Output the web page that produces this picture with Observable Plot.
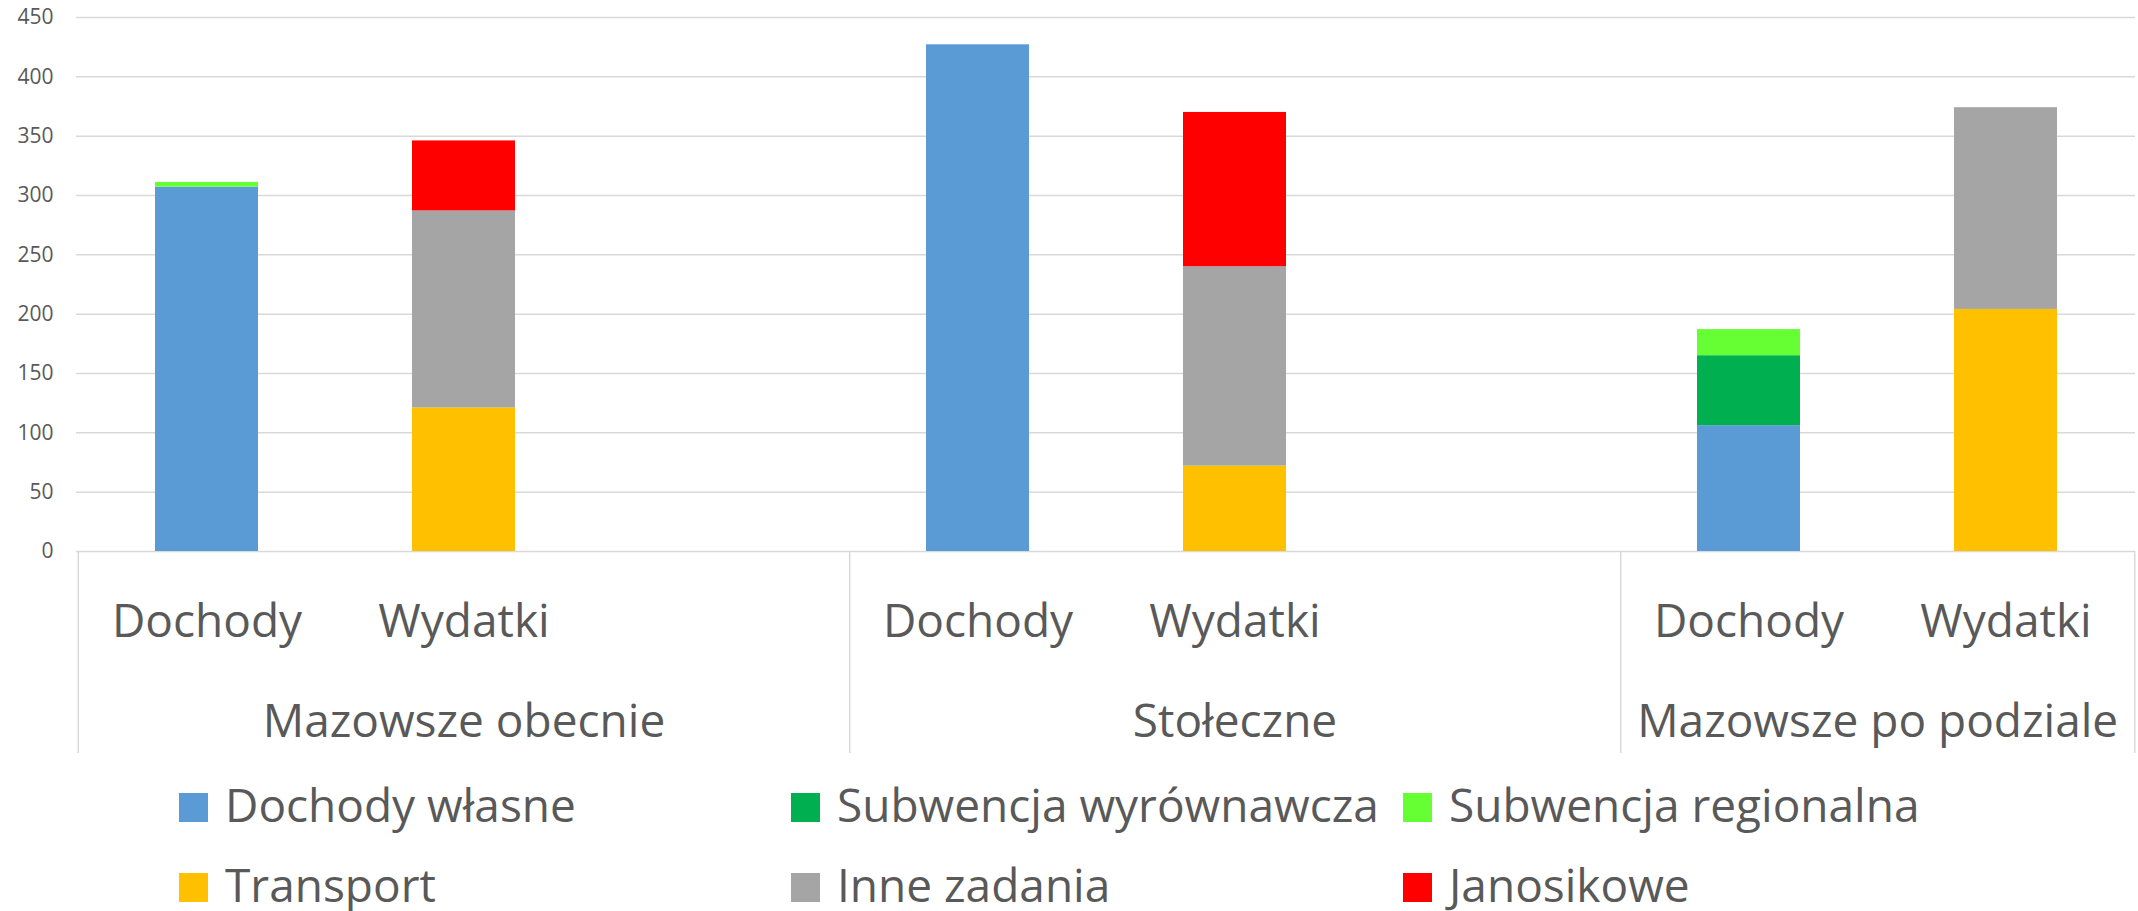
<!DOCTYPE html>
<html><head><meta charset="utf-8">
<script src="https://cdn.jsdelivr.net/npm/d3@7"></script>
<script src="https://cdn.jsdelivr.net/npm/@observablehq/plot@0.6"></script>
<style>
body{margin:0;background:#fff;font-family:"Open Sans",sans-serif;overflow:hidden;}
#chart svg{display:block;}
#legend{padding-left:179px;padding-top:4px;color:#595959;font-size:46px;line-height:46px;}
.row{display:flex;height:80px;align-items:center;}
.item{width:612px;display:flex;align-items:center;white-space:nowrap;}
.sw{width:29px;height:29px;margin-right:17px;flex:none;position:relative;top:3px;}
</style></head><body><div id="chart"></div><div id="legend"></div>
<script>
const groups = ["Mazowsze obecnie", "Stołeczne", "Mazowsze po podziale"];
const categories = ["Dochody", "Wydatki"];
const seriesNames = ["Dochody własne", "Subwencja wyrównawcza", "Subwencja regionalna", "Transport", "Inne zadania", "Janosikowe"];
const seriesColors = ["#5B9BD5", "#00B050", "#66FF33", "#FFC000", "#A5A5A5", "#FF0000"];
// values per group (Mazowsze obecnie, Stołeczne, Mazowsze po podziale)
const dochodyWlasne = [307, 427, 106];
const subwencjaWyrownawcza = [0, 0, 59];
const subwencjaRegionalna = [4, 0, 22];
const transport = [121, 72, 204];
const inneZadania = [166, 168, 170];
const janosikowe = [59, 130, 0];
const yTicks = [0, 50, 100, 150, 200, 250, 300, 350, 400, 450];

const dochodySeries = [["Dochody własne", dochodyWlasne], ["Subwencja wyrównawcza", subwencjaWyrownawcza], ["Subwencja regionalna", subwencjaRegionalna]];
const wydatkiSeries = [["Transport", transport], ["Inne zadania", inneZadania], ["Janosikowe", janosikowe]];

// x domain: two categories per group, plus an empty slot after the first two groups
const xKeys = [];
groups.forEach((g, gi) => {
  categories.forEach(c => xKeys.push(g + "|" + c));
  if (gi < groups.length - 1) xKeys.push(g + "|");
});

const table = [];
groups.forEach((g, gi) => {
  dochodySeries.forEach(([s, arr]) => table.push({key: g + "|Dochody", series: s, value: arr[gi]}));
  wydatkiSeries.forEach(([s, arr]) => table.push({key: g + "|Wydatki", series: s, value: arr[gi]}));
});

const W = 2138, H = 760, mL = 76, mR = 3, mT = 17, mB = 209;
const step = (W - mL - mR) / xKeys.length;

const boundariesRight = xKeys.filter((k, i) => k.endsWith("|") || i === xKeys.length - 1);
const groupLabelAnchor = groups.map((g, gi) => {
  const keys = xKeys.filter(k => k.startsWith(g + "|"));
  return {key: keys[Math.floor((keys.length - 1) / 2)], text: g, odd: keys.length % 2 === 1};
});

const chart = Plot.plot({
  width: W, height: H,
  marginLeft: mL, marginRight: mR, marginTop: mT, marginBottom: mB,
  style: {fontFamily: "Open Sans", fontSize: "21px", color: "#595959", background: "white", overflow: "visible"},
  x: {domain: xKeys, paddingInner: 0.6, paddingOuter: 0.3, axis: null},
  y: {domain: [0, 450], axis: null},
  color: {domain: seriesNames, range: seriesColors},
  marks: [
    Plot.gridY(yTicks, {stroke: "#d9d9d9", strokeOpacity: 1, strokeWidth: 1.5}),
    Plot.axisY(yTicks, {tickSize: 0, tickPadding: 23, label: null, fontSize: 21}),
    Plot.barY(table.filter(d => d.value > 0), {x: "key", y: "value", fill: "series"}),
    Plot.ruleX([xKeys[0]], {x: d => d, dx: -step / 2, y1: 0, y2: 0, insetBottom: -202, stroke: "#d9d9d9", strokeWidth: 1.5}),
    Plot.ruleX(boundariesRight, {x: d => d, dx: step / 2, y1: 0, y2: 0, insetBottom: -202, stroke: "#d9d9d9", strokeWidth: 1.5}),
    Plot.text(xKeys, {x: d => d, text: d => d.split("|")[1], frameAnchor: "bottom", dy: 85, fontSize: 46, fill: "#595959"}),
    Plot.text(groupLabelAnchor.filter(d => d.odd), {x: "key", text: "text", frameAnchor: "bottom", dy: 185, fontSize: 46, fill: "#595959"}),
    Plot.text(groupLabelAnchor.filter(d => !d.odd), {x: "key", text: "text", frameAnchor: "bottom", dx: step / 2, dy: 185, fontSize: 46, fill: "#595959"})
  ]
});
document.getElementById("chart").appendChild(chart);

const legend = document.getElementById("legend");
for (let r = 0; r < 2; r++) {
  const row = document.createElement("div");
  row.className = "row";
  for (let c = 0; c < 3; c++) {
    const i = r * 3 + c;
    const item = document.createElement("div");
    item.className = "item";
    const sw = document.createElement("span");
    sw.className = "sw";
    sw.style.background = seriesColors[i];
    const t = document.createElement("span");
    t.textContent = seriesNames[i];
    item.appendChild(sw); item.appendChild(t);
    row.appendChild(item);
  }
  legend.appendChild(row);
}
</script></body></html>
